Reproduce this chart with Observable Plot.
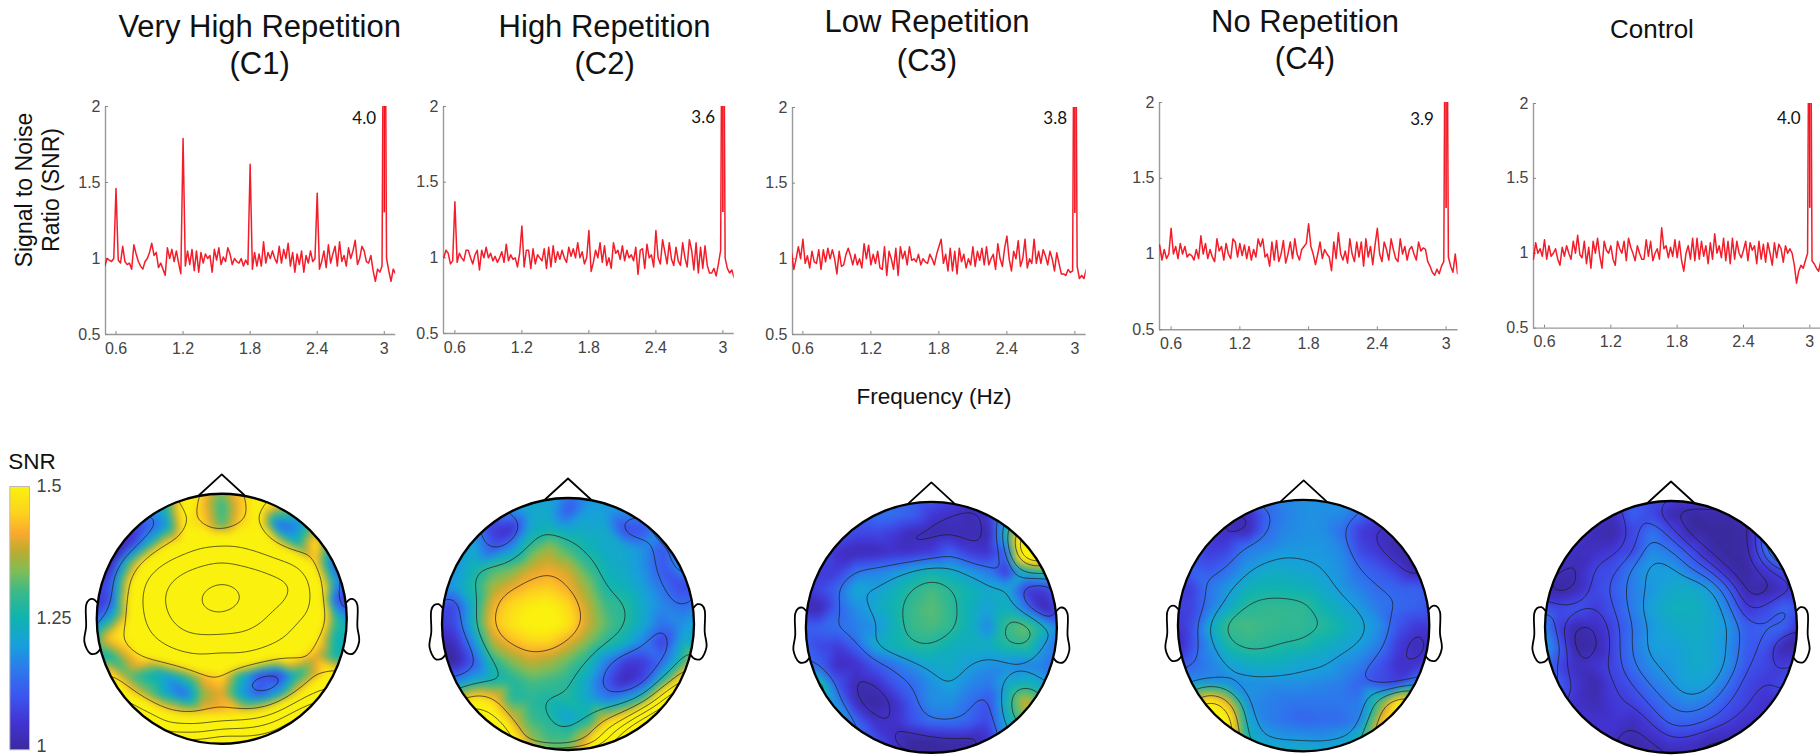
<!DOCTYPE html>
<html><head><meta charset="utf-8">
<script src="https://cdn.jsdelivr.net/npm/d3@7"></script>
<script src="https://cdn.jsdelivr.net/npm/@observablehq/plot@0.6"></script>
<style>
html,body{margin:0;padding:0;background:#fff;overflow:hidden}
#page{position:relative;width:1820px;height:756px;overflow:hidden;font-family:"Liberation Sans",Arial,sans-serif;color:#111}
#page svg{position:absolute;display:block;background:transparent}
.t{position:absolute;white-space:nowrap;line-height:1}
.c{transform:translateX(-50%)}
</style></head><body><div id="page"></div>
<script>
const startHz=0.5, stepHz=0.02;
const xTicks=[0.6,1.2,1.8,2.4,3], yTicks=[0.5,1,1.5,2], barTicks=[1.25,1.5];
const titles=[["Very High Repetition","(C1)"],["High Repetition","(C2)"],["Low Repetition","(C3)"],["No Repetition","(C4)"],["Control"]];
const peakLabels=["4.0","3.6","3.8","3.9","4.0"];

const snrC1=[.95,1,.99,.98,1,1.46,.99,.97,1.08,.98,
.96,.97,.93,1.09,1.03,.98,.95,.93,.98,1,
1.04,1.1,1.02,1.04,.94,.97,.93,.89,1.07,1,
1.06,.98,1.05,.97,.9,1.79,.95,1.05,.96,1.06,
.92,1.05,.91,1.04,.97,1.03,1,1.02,.91,1.06,
.99,1.07,.96,1.01,.98,1.07,1.03,.96,1,.98,
.97,1,.95,.99,.96,1.62,.93,1.04,.95,1.03,
.95,1.11,.97,1.04,1,1.05,1,.97,1.08,.97,
1.06,1,1.1,.95,1.04,.91,1.03,.96,1.05,.91,
1.02,.97,1.05,.98,1,1.43,.93,.98,1.05,.94,
1.09,.97,1.03,1.08,.95,1.11,.98,1.02,.95,1.07,
1,1.05,1.12,.96,1,1.08,1.05,.98,.97,1.02,
.92,.85,.93,.91,.95,4,1,.92,.85,.93,.9];
const snrC2=[1,1.05,1.03,.96,.98,1.37,.97,1.03,1,.98,
1.05,1.05,1,.96,1.02,1.05,.92,1.05,1,1.07,
1,1.03,.98,1.01,.97,1,1.04,.97,1.09,.98,
1.02,.99,1,.94,1.03,1.21,.94,1.05,1.05,.93,
1.06,.96,1.02,1,.98,1.06,.93,1.07,.94,1.08,
.97,1.04,.99,1.05,1,.97,1.07,1.01,1.06,1,
1.1,1,1.04,.96,1,1.18,.91,.97,1.05,1,
1.1,.97,1.08,.95,1,.93,1.1,1.03,1.05,.99,
1.08,.98,1.05,1,1.02,.98,1.07,.89,1.05,1.06,
.93,1.09,1,1.02,.94,1.18,1,.96,1.12,1.04,
.96,1.1,.99,.95,1.07,.98,.95,1.1,1,.94,
1.12,1.05,.92,1.1,.9,1.07,.93,1.08,.95,.9,
.9,.93,.88,.96,1.05,4,1,.93,.9,.92,.87];
const snrC3=[1.04,.93,1,1.08,1,1.13,.97,1.02,.94,1.05,
.98,.97,1.06,.93,1.06,.98,1.07,1,1.06,1,
.9,1.05,.95,.96,1.03,1.07,1.02,.96,1.03,.96,
1,.94,1.1,1,1.09,.96,1.03,.97,1.05,.94,
.93,1.08,.89,1.05,1,.93,1.07,.89,1.08,1,
1.05,.96,1.08,.99,1,.98,1.03,.96,1,.98,
.97,1.03,1,.96,1.03,1.08,1.13,.97,1.03,.92,
1.07,.92,1.05,.9,1.07,.98,1.03,.94,1,.96,
1.08,.95,1.05,.99,1.07,.96,1.08,.96,1,1.03,
.93,1.1,1,.95,1.07,1.15,1,.92,1.05,1,
1.12,.95,1,1.13,.94,1,.97,1.13,.97,1.05,
.97,1.06,1.02,.96,1.05,1,.92,1.04,.97,.9,
.9,.89,.93,.91,.92,4,.95,.87,.89,.87,.93];
const snrC4=[1.06,.96,1.03,.97,1,1.17,1,1.05,.97,1.07,
1,1.05,.98,1,.99,.96,1.03,.97,1.12,1,
1.07,.97,1.03,.98,.95,1.1,1.02,1.05,.96,1.07,
1,.97,1.1,1.08,.98,1.07,.99,1.06,.97,1.05,
.96,1.03,.98,1.1,1.05,1.1,.98,1,.92,1.08,
.96,1.09,.95,1,1.09,.94,1,1.08,.97,1.1,
1,.96,1.03,1.05,1.07,1.2,1.05,1,.93,1,
1.08,.97,1.03,1,.98,.89,1.08,.97,1.14,1,
.96,1.02,.94,1.1,1,.95,1.08,.98,1.08,.92,
1.1,.98,1.05,.93,1.06,1.17,1,.95,1.08,1.03,
.96,1.1,1.03,.97,.95,1.1,1,1.05,.96,1.03,
1.05,1,.96,1.08,1.02,1.04,1.03,.95,.92,.88,
.86,.9,.87,.92,.95,4,.98,.92,.88,1,.87];
const snrC5=[.96,1.07,1,1.03,.98,1.09,.96,1.05,.98,1,
1.03,.96,.92,1.04,.98,1.05,1,.96,1.08,1,
1.12,.99,.97,1.08,.93,1.04,.9,1.08,1,1.1,
.98,.9,1.08,1.02,1,1.05,.96,.92,1.08,1.03,
1,1.08,.95,1.1,1.04,1,.95,1.05,1,.96,
.96,1.09,.98,1.08,.95,1,1.03,.96,1.17,1.03,
1.05,.97,1.04,.98,1.09,.97,1.08,.95,.88,1,
1.05,.96,1.1,.95,1.1,.96,1.08,.98,1.05,.93,
1.07,.96,1.13,1,1.05,.97,1.1,.95,1.08,.93,
1.1,.96,1.08,1,.97,1.02,1.08,.95,1.07,1.02,
1.05,.93,1.08,.96,1.06,.94,1.07,1,.92,1.07,
.97,1.06,1.03,.94,1.05,1,1.03,1,.92,.8,
.88,.92,.9,.95,1,4,.95,.93,.9,.88,.95];

// scalp maps: SNR x 100 on a 15 x 15 lattice, top row first
const mapC1=[
[150,150,150,150,150,150,145,135,145,150,150,150,150,150,150],
[130,130,125,120,125,155,143,128,143,155,140,130,130,130,130],
[110,105,108,110,118,150,146,130,146,152,112,116,135,130,130],
[105,103,103,122,145,155,168,172,168,158,146,125,150,120,115],
[100,100,128,155,175,190,198,205,198,192,180,170,145,110,110],
[108,108,143,180,200,215,225,232,225,218,210,205,160,122,108],
[103,108,148,185,205,220,236,248,234,220,212,195,170,112,100],
[108,122,148,178,200,215,222,226,216,208,190,175,165,130,115],
[120,145,150,168,185,198,200,198,200,190,180,168,152,125,122],
[120,125,140,150,160,170,172,165,172,168,155,150,140,125,125],
[140,150,132,125,120,130,143,147,125,108,105,125,140,155,150],
[170,170,150,135,122,112,135,140,120,110,120,145,175,185,190],
[240,240,200,165,150,143,143,143,145,150,170,210,240,240,240],
[280,280,280,260,190,190,190,205,210,220,240,280,280,280,280],
[280,280,280,280,280,280,280,300,280,280,280,280,280,280,280]];
const mapC2=[
[120,120,120,120,120,120,120,115,118,118,118,118,118,118,118],
[120,120,115,108,118,122,122,110,120,120,118,115,118,120,120],
[120,120,118,106,103,122,125,122,122,122,108,110,118,120,120],
[120,120,122,110,118,130,136,130,125,122,122,118,110,118,120],
[118,118,125,130,132,138,140,138,130,124,122,118,110,118,118],
[118,120,127,136,140,143,144,141,135,126,124,120,114,108,108],
[110,108,124,141,146,149,150,146,138,130,128,122,117,113,115],
[106,108,125,143,148,151,152,148,139,132,128,122,114,118,122],
[100,103,118,137,142,145,145,140,134,128,124,116,106,122,122],
[100,100,110,127,134,138,136,132,127,116,106,106,113,127,145],
[115,115,122,125,127,131,130,128,122,110,102,108,127,150,170],
[140,135,150,145,128,128,126,127,122,116,120,130,165,200,220],
[170,170,165,158,140,130,127,120,125,140,150,185,210,230,240],
[200,200,200,190,155,135,130,130,140,165,200,230,240,240,240],
[200,200,200,180,160,145,135,135,150,175,210,240,240,240,240]];
const mapC3=[
[112,112,112,112,112,112,112,112,108,108,108,112,120,125,125],
[112,112,112,112,114,114,112,106,104,102,104,118,125,125,125],
[112,112,112,108,108,106,102,101,102,102,101,125,155,155,150],
[110,110,104,102,102,104,104,106,112,106,104,112,170,170,150],
[110,106,106,114,116,118,122,125,123,119,115,104,125,130,125],
[106,108,113,122,120,124,128,131,128,125,122,122,106,106,115],
[103,101,112,118,122,125,130,132,129,124,120,124,115,101,110],
[112,112,114,116,118,124,130,131,129,124,116,130,133,125,115],
[114,108,106,112,122,125,127,127,124,123,123,127,129,118,112],
[115,112,103,104,110,114,118,122,123,120,118,118,116,115,113],
[125,130,110,102,103,110,113,118,121,117,115,122,125,120,115],
[125,115,118,103,100,103,111,118,118,114,109,125,140,130,120],
[125,125,122,113,104,104,110,114,114,112,108,122,135,125,120],
[125,125,115,115,110,104,100,100,101,101,104,120,120,120,120],
[125,120,115,112,110,104,100,100,100,101,104,110,115,115,115]];
const mapC4=[
[118,118,118,118,118,118,118,118,118,118,118,118,118,118,118],
[112,112,110,104,102,112,116,118,118,118,114,108,108,110,112],
[112,110,108,103,102,113,117,118,118,114,106,104,102,108,110],
[112,112,106,108,116,117,119,119,119,117,108,105,101,102,110],
[112,112,110,114,119,122,122,121,120,118,113,110,106,100,108],
[108,106,115,119,124,125,125,124,122,119,116,113,112,112,110],
[108,107,115,122,128,129,129,129,125,122,119,115,113,112,108],
[105,108,122,130,131,130,129,129,128,125,122,118,110,106,106],
[100,108,118,127,129,128,127,127,124,122,120,116,106,102,104],
[110,112,116,121,123,124,123,121,121,118,116,110,104,104,108],
[118,118,118,117,118,118,118,118,117,116,112,108,106,115,118],
[125,130,150,140,118,116,115,115,115,115,115,130,150,140,125],
[155,155,160,152,122,116,114,112,113,113,116,140,155,145,125],
[155,160,165,155,125,120,119,119,118,120,125,145,155,145,130],
[150,150,150,145,130,125,125,125,125,125,130,140,145,140,130]];
const mapC5=[
[108,108,108,108,108,108,108,108,108,108,108,108,108,108,108],
[108,108,108,106,103,112,108,101,100,101,101,101,108,108,108],
[110,110,108,102,101,108,115,108,101,100,100,101,112,125,115],
[108,108,103,104,106,108,118,115,109,102,100,101,112,135,120],
[106,103,102,108,109,116,120,120,115,110,102,100,105,108,110],
[103,100,102,108,111,116,119,122,123,120,112,101,100,104,108],
[110,108,110,106,110,116,121,124,124,122,116,105,108,113,110],
[120,107,101,103,108,114,119,122,123,122,119,111,112,112,103],
[125,112,100,101,108,115,120,120,122,122,118,111,110,101,100],
[118,108,103,105,108,114,118,119,122,122,118,110,108,106,108],
[112,112,105,101,107,110,115,118,121,120,114,108,106,109,108],
[108,108,104,102,106,107,111,115,117,115,110,107,104,103,106],
[104,103,103,105,105,103,107,112,112,110,107,104,103,103,105],
[104,104,104,105,103,101,103,106,105,102,102,103,104,104,104],
[104,104,104,104,103,101,101,100,101,102,102,104,104,104,104]];

const contourLevels=[
[1.18,1.46,1.74,2.02,2.3,2.58],
[1.14,1.27,1.41,1.55,1.68,1.82,1.96],
[1.04,1.13,1.2,1.27,1.39,1.47],
[1.05,1.13,1.2,1.27,1.37,1.45],
[1.03,1.065,1.1,1.14,1.18]];

const colorStops=[1,1.05,1.1,1.15,1.2,1.25,1.3,1.34,1.38,1.41,1.45,1.5];
const colorRange=["#3a2a9e","#4233d2","#3c55ee","#2d78ec","#18a0dc","#0fb3b0","#3bb98a","#82bd55","#c2ab2e","#f9a92e","#fdd31f","#faf20e"];
const colorScale={type:"linear",domain:colorStops,range:colorRange,clamp:true};

const earX=[.997,1.027,1.064,1.085,1.085,1.099,1.053,1.005,.973];
const earY=[.13,.157,.149,.109,-.064,-.184,-.277,-.277,-.245];
const noseX=[-.18,0,.18];
const noseY=[.99,1.155,.99];

// layout in page pixels
const lineGeo=[
 {left:104.5,top:106,bottom:334,x06:115,x3:383.3,right:394.7,lx:2.82,ly:1.92},
 {left:443.3,top:106,bottom:333,x06:454.7,x3:722.7,right:734,lx:2.824,ly:1.925},
 {left:792.3,top:106.7,bottom:333.7,x06:802.7,x3:1074.7,right:1086,lx:2.826,ly:1.925},
 {left:1158.7,top:102,bottom:329.3,x06:1170.3,x3:1445.3,right:1457.3,lx:2.79,ly:1.89},
 {left:1533,top:102.7,bottom:327.3,x06:1544,x3:1809.3,right:1820.5,lx:2.81,ly:1.9}];
const headGeo=[
 {cx:221,cy:618.7,R:125},{cx:567.2,cy:623.3,R:126},{cx:931.2,cy:626.7,R:125.5},{cx:1303,cy:625,R:125.7},{cx:1670,cy:626.7,R:126}];
const titleGeo=[[259.7,38,75],[604.6,38,75],[927,32.5,72],[1305,32.5,70],[1652,38]];

const page=document.getElementById("page");
function place(svg,l,t){svg.style.left=l+"px";svg.style.top=t+"px";page.appendChild(svg);}
function text(s,x,y,size,extra=""){ // y = baseline
  const d=document.createElement("div");d.className="t c";d.textContent=s;
  d.style.cssText=`left:${x}px;top:${y-size*0.86}px;font-size:${size}px;${extra}`;page.appendChild(d);return d;}

titles.forEach((lines,i)=>lines.forEach((s,j)=>text(s,titleGeo[i][0],titleGeo[i][j+1],s==="Control"?26:31)));
text("Frequency (Hz)",934,405,22.5);
const yl=(s,x)=>{const d=document.createElement("div");d.className="t";d.textContent=s;
 d.style.cssText=`left:${x}px;top:190px;font-size:23px;transform:translate(-50%,-50%) rotate(-90deg);`;page.appendChild(d);};
yl("Signal to Noise",23.5);yl("Ratio (SNR)",51);
text("SNR",32,470,22.5);

[snrC1,snrC2,snrC3,snrC4,snrC5].forEach((vals,i)=>{
 const g=lineGeo[i], pp=(g.x3-g.x06)/2.4;
 const x0=0.6-(g.x06-g.left)/pp, x1=3+(g.right-g.x3)/pp;
 const rows=vals.map((v,k)=>({f:startHz+stepHz*k,v}));
 const mL=40,mT=12,mB=34,mR=4;
 const tx=3/pp, ty=1.5*3/(g.bottom-g.top);
 const svg=Plot.plot({
  width:g.right-g.left+mL+mR,height:g.bottom-g.top+mT+mB,
  marginLeft:mL,marginTop:mT,marginBottom:mB,marginRight:mR,
  style:{fontFamily:'"Liberation Sans",Arial,sans-serif',background:"transparent",overflow:"visible"},
  x:{domain:[x0,x1]},y:{domain:[0.5,2]},
  marks:[
   Plot.axisX({ticks:xTicks,tickSize:0,tickPadding:8,fontSize:16,color:"#444",label:null,tickFormat:d=>String(d)}),
   Plot.axisY({ticks:yTicks,tickSize:0,tickPadding:5,fontSize:16,color:"#444",label:null,tickFormat:d=>String(d)}),
   Plot.ruleY([0.5],{stroke:"#999",strokeWidth:1.4}),
   Plot.ruleX([x0],{stroke:"#999",strokeWidth:1.4}),
   Plot.ruleX(xTicks,{y1:0.5,y2:0.5+ty,stroke:"#888",strokeWidth:1}),
   Plot.ruleY(yTicks,{x1:x0,x2:x0+tx,stroke:"#888",strokeWidth:1}),
   Plot.line(rows,{x:"f",y:"v",stroke:"#f2101c",strokeWidth:1.5,strokeOpacity:.95,clip:true}),
   Plot.ruleX([3],{y1:1.3,y2:2,stroke:"#f2101c",strokeWidth:1.6}),
   Plot.text([peakLabels[i]],{x:g.lx,y:g.ly,text:d=>d,fontSize:17,fontFamily:"Lato",fill:"#111"})
  ]});
 place(svg,g.left-mL,g.top-mT);
});

[mapC1,mapC2,mapC3,mapC4,mapC5].forEach((rows,i)=>{
 const g=headGeo[i], pad=1.25, W=2*pad*g.R;
 const pts=rows.flatMap((r,ri)=>r.map((v,ci)=>({a:-1.05+0.15*ci,b:1.05-0.15*ri,v:v/100})));
 const svg=Plot.plot({
  width:W,height:W,margin:0,
  x:{domain:[-pad,pad],axis:null},y:{domain:[-pad,pad],axis:null},
  color:colorScale,
  style:{background:"transparent"},
  marks:[
   Plot.raster(pts,{x:"a",y:"b",fill:"v",interpolate:"barycentric",blur:3}),
   Plot.contour(pts,{x:"a",y:"b",value:"v",interpolate:"barycentric",blur:4,thresholds:contourLevels[i],stroke:"#1a1a1a",strokeWidth:0.7,fill:"none"}),
   Plot.dot([0],{x:()=>0,y:()=>0,r:g.R+100,stroke:"#fff",strokeWidth:200,fill:"none"}),
   Plot.line(noseX.map((x,k)=>({x,y:noseY[k]})),{x:"x",y:"y",stroke:"#000",strokeWidth:1.8}),
   Plot.line(earX.map((x,k)=>({x,y:earY[k]})),{x:"x",y:"y",stroke:"#000",strokeWidth:1.8,curve:"catmull-rom"}),
   Plot.line(earX.map((x,k)=>({x:-x,y:earY[k]})),{x:"x",y:"y",stroke:"#000",strokeWidth:1.8,curve:"catmull-rom"}),
   Plot.dot([0],{x:()=>0,y:()=>0,r:g.R,stroke:"#000",strokeWidth:2.3,fill:"none"})
  ]});
 place(svg,g.cx-pad*g.R,g.cy-pad*g.R);
});

// colour bar
{
 const top=486,bottom=749.3,left=9.3,right=29,mT=10,mB=22,mR=45;
 const svg=Plot.plot({
  width:right+mR,height:bottom-top+mT+mB,
  marginLeft:left,marginRight:mR,marginTop:mT,marginBottom:mB,
  x:{domain:[0,1],axis:null},y:{domain:[1,1.5],axis:null},
  color:colorScale,
  style:{fontFamily:'"Liberation Sans",Arial,sans-serif',background:"transparent",overflow:"visible"},
  marks:[
   Plot.raster({fill:(x,y)=>y,x1:0,x2:1,y1:1,y2:1.5,width:2,height:264}),
   Plot.frame({stroke:"#bbb",strokeWidth:1}),
   Plot.axisY({anchor:"right",ticks:barTicks,tickSize:0,tickPadding:7,fontSize:18,color:"#444",label:null,tickFormat:d=>String(d)}),
   Plot.text([1],{x:1,y:d=>d,text:d=>String(d),dx:7,dy:-4,textAnchor:"start",fontSize:18,fill:"#444"})
  ]});
 place(svg,0,top-mT);
}
</script></body></html>
